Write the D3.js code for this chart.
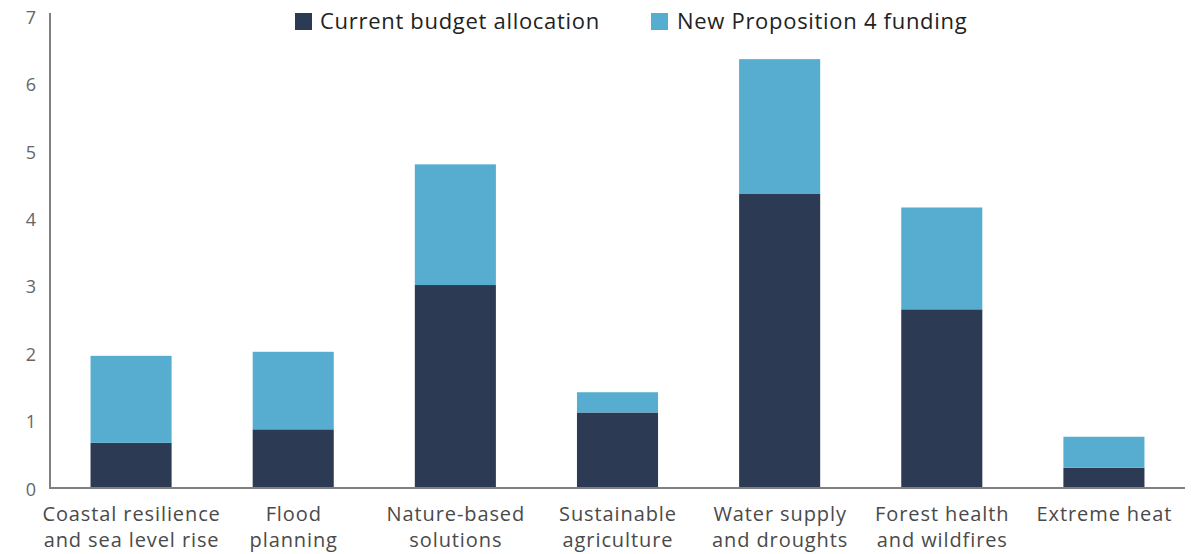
<!DOCTYPE html>
<html>
<head>
<meta charset="utf-8">
<script src="https://cdn.jsdelivr.net/npm/d3@7"></script>
<style>
  html, body { margin: 0; padding: 0; background: #fff; }
  svg { display: block; font-family: "Open Sans", Lato, sans-serif; }
</style>
</head>
<body>
<svg id="chart" width="1195" height="554"></svg>
<script>
// Climate spending by category ($ billions)
const categories = [
  ["Coastal resilience", "and sea level rise"],
  ["Flood", "planning"],
  ["Nature-based", "solutions"],
  ["Sustainable", "agriculture"],
  ["Water supply", "and droughts"],
  ["Forest health", "and wildfires"],
  ["Extreme heat"]
];
const currentBudget = [0.67, 0.87, 3.01, 1.12, 4.36, 2.65, 0.30];
const prop4Funding  = [1.29, 1.15, 1.79, 0.30, 2.00, 1.51, 0.46];
const seriesNames = ["Current budget allocation", "New Proposition 4 funding"];
const yTicks = [0, 1, 2, 3, 4, 5, 6, 7];

const colors = ["#2d3a53", "#56adcf"];
const svg = d3.select("#chart");

const x = d3.scaleBand()
  .domain(d3.range(categories.length))
  .range([50, 1185])
  .paddingInner(0.5)
  .paddingOuter(0.25);

const y = d3.scaleLinear().domain([0, 7]).range([488, 16]);

const rows = categories.map((c, i) => ({ i, current: currentBudget[i], prop4: prop4Funding[i] }));
const stacked = d3.stack().keys(["current", "prop4"])(rows);

svg.append("g")
  .selectAll("g")
  .data(stacked)
  .join("g")
  .attr("fill", (d, k) => colors[k])
  .selectAll("rect")
  .data(d => d)
  .join("rect")
  .attr("x", d => x(d.data.i))
  .attr("width", x.bandwidth())
  .attr("y", d => y(d[1]))
  .attr("height", d => y(d[0]) - y(d[1]));

// Y axis
const yAxis = svg.append("g")
  .attr("transform", "translate(50,0)")
  .call(d3.axisLeft(y).tickValues(yTicks).tickFormat(d3.format("d")).tickSize(0).tickPadding(14));
yAxis.select(".domain").attr("stroke", "#808080").attr("stroke-width", 2).attr("d", `M0,${y(7) - 3}V${y(0)}`);
yAxis.selectAll("text")
  .attr("fill", "#666")
  .attr("font-size", 18)
  .attr("font-family", "'Open Sans', sans-serif")
  .attr("dy", "0.4em");

// X axis baseline
svg.append("line")
  .attr("x1", 49).attr("x2", 1185)
  .attr("y1", y(0)).attr("y2", y(0))
  .attr("stroke", "#808080").attr("stroke-width", 2);

// Category labels
const xl = svg.append("g")
  .selectAll("text")
  .data(categories)
  .join("text")
  .attr("x", (d, i) => x(i) + x.bandwidth() / 2 + 0.5)
  .attr("y", 521)
  .attr("text-anchor", "middle")
  .attr("fill", "#4a4a4a")
  .attr("font-size", 20)
  .attr("letter-spacing", 0.9);
xl.selectAll("tspan")
  .data(d => d)
  .join("tspan")
  .attr("x", function () { return this.parentNode.getAttribute("x"); })
  .attr("dy", (d, j) => j === 0 ? 0 : 26)
  .text(d => d);

// Legend
const legendPos = [{ sx: 295, tx: 320 }, { sx: 651, tx: 677 }];
const legend = svg.append("g")
  .selectAll("g")
  .data(seriesNames)
  .join("g");
legend.append("rect")
  .attr("x", (d, k) => legendPos[k].sx)
  .attr("y", 13)
  .attr("width", 17).attr("height", 17)
  .attr("fill", (d, k) => colors[k]);
legend.append("text")
  .attr("x", (d, k) => legendPos[k].tx)
  .attr("y", 29)
  .attr("fill", "#222")
  .attr("font-size", 22)
  .attr("letter-spacing", 0.7)
  .text(d => d);
</script>
</body>
</html>
